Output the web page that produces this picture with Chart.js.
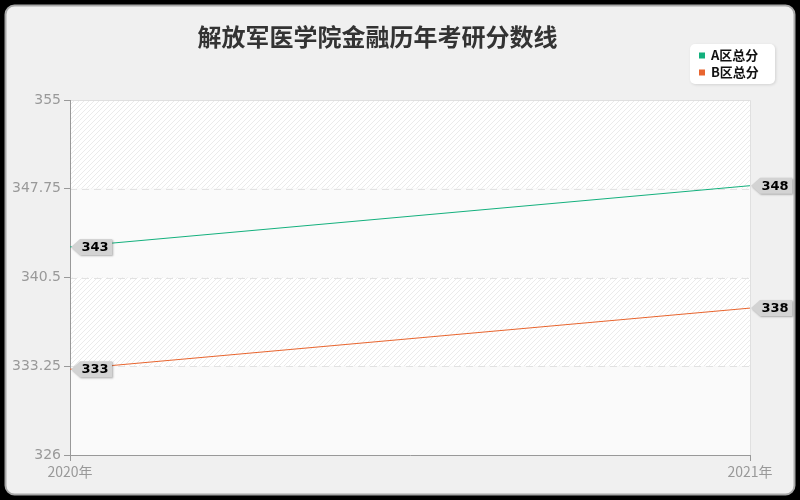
<!DOCTYPE html>
<html>
<head>
<meta charset="utf-8">
<script src="https://cdn.jsdelivr.net/npm/chart.js@4/dist/chart.umd.min.js"></script>
<style>
html,body{margin:0;padding:0;background:#000;}
canvas{display:block;}
</style>
</head>
<body>
<canvas id="c" width="800" height="500"></canvas>
<script>
const categories = ['2020年', '2021年'];
const seriesNames = ['A区总分', 'B区总分'];
const seriesA = [343, 348];
const seriesB = [333, 338];
const yTicks = [326, 333.25, 340.5, 347.75, 355];
const titleText = '解放军医学院金融历年考研分数线';
const colors = ['#13b07d', '#e8652f'];

const NUM_FONT = '"DejaVu Sans", "Noto Sans", sans-serif';
const CJK_FONT = '"Noto Sans CJK SC", "DejaVu Sans", sans-serif';

function makePattern(ctx) {
  const s = 5;
  const pc = document.createElement('canvas');
  pc.width = s; pc.height = s;
  const p = pc.getContext('2d');
  p.fillStyle = '#ffffff';
  p.fillRect(0, 0, s, s);
  p.strokeStyle = '#ebebeb';
  p.lineWidth = 1;
  p.beginPath();
  p.moveTo(-1, s + 1); p.lineTo(s + 1, -1);
  p.moveTo(-1, 1); p.lineTo(1, -1);
  p.moveTo(s - 1, s + 1); p.lineTo(s + 1, s - 1);
  p.stroke();
  return ctx.createPattern(pc, 'repeat');
}

const framePlugin = {
  id: 'frame',
  beforeDraw(chart) {
    const ctx = chart.ctx;
    const ca = chart.chartArea;
    ctx.save();
    ctx.fillStyle = '#000';
    ctx.fillRect(0, 0, 800, 500);
    ctx.beginPath();
    ctx.roundRect(5.5, 5.5, 789, 489, 9);
    ctx.fillStyle = '#f0f0f0';
    ctx.fill();
    ctx.lineWidth = 2;
    ctx.strokeStyle = '#a8a8a8';
    ctx.stroke();

    // bands
    const ys = chart.scales.y;
    const pat = makePattern(ctx);
    for (let i = 0; i < yTicks.length - 1; i++) {
      const yTop = ys.getPixelForValue(yTicks[yTicks.length - 1 - i]);
      const yBot = ys.getPixelForValue(yTicks[yTicks.length - 2 - i]);
      ctx.fillStyle = (i % 2 === 0) ? pat : '#fafafa';
      ctx.fillRect(ca.left, yTop, ca.right - ca.left, yBot - yTop);
    }
    // dashed grid
    ctx.strokeStyle = '#e2e2e2';
    ctx.lineWidth = 1;
    ctx.setLineDash([7, 5]);
    for (let i = 1; i < yTicks.length - 1; i++) {
      const y = Math.round(ys.getPixelForValue(yTicks[i])) + 0.5;
      ctx.beginPath();
      ctx.moveTo(ca.left, y);
      ctx.lineTo(ca.right, y);
      ctx.stroke();
    }
    ctx.setLineDash([]);
    // top and right border
    ctx.strokeStyle = '#e0e0e0';
    ctx.beginPath();
    ctx.moveTo(ca.left, Math.round(ca.top) + 0.5);
    ctx.lineTo(ca.right + 0.5, Math.round(ca.top) + 0.5);
    ctx.lineTo(ca.right + 0.5, ca.bottom);
    ctx.stroke();
    ctx.restore();
  },
  afterDraw(chart) {
    const ctx = chart.ctx;
    ctx.save();
    // title
    ctx.fillStyle = '#333333';
    ctx.font = 'bold 24px ' + CJK_FONT;
    ctx.textAlign = 'center';
    ctx.textBaseline = 'middle';
    ctx.fillText(titleText, 377.5, 37);

    // legend
    ctx.shadowColor = 'rgba(0,0,0,0.12)';
    ctx.shadowBlur = 3;
    ctx.shadowOffsetX = 1;
    ctx.shadowOffsetY = 1;
    ctx.beginPath();
    ctx.roundRect(690, 44, 85, 40, 5);
    ctx.fillStyle = '#ffffff';
    ctx.fill();
    ctx.shadowColor = 'transparent';
    ctx.textAlign = 'left';
    ctx.font = 'bold 13px ' + CJK_FONT;
    for (let i = 0; i < seriesNames.length; i++) {
      const cy = 55.5 + i * 17;
      ctx.fillStyle = colors[i];
      ctx.fillRect(699, cy - 3, 6, 6);
      ctx.fillStyle = '#111';
      ctx.fillText(seriesNames[i], 711, cy);
    }
    ctx.restore();
  },
  afterDatasetsDraw(chart) {
    const ctx = chart.ctx;
    ctx.save();
    ctx.font = 'bold 13px ' + NUM_FONT;
    ctx.textBaseline = 'middle';
    ctx.textAlign = 'left';
    chart.data.datasets.forEach((ds, di) => {
      const meta = chart.getDatasetMeta(di);
      meta.data.forEach((pt, i) => {
        const txt = String(ds.data[i]);
        const w = ctx.measureText(txt).width;
        const x = pt.x + 1, y = pt.y;
        const bx = x + 9, bw = w + 5, h = 16;
        ctx.save();
        ctx.shadowColor = 'rgba(0,0,0,0.3)';
        ctx.shadowBlur = 2;
        ctx.shadowOffsetX = 1;
        ctx.shadowOffsetY = 1;
        ctx.beginPath();
        ctx.moveTo(x, y);
        ctx.lineTo(bx, y - h / 2);
        ctx.lineTo(bx + bw, y - h / 2);
        ctx.lineTo(bx + bw, y + h / 2);
        ctx.lineTo(bx, y + h / 2);
        ctx.closePath();
        ctx.fillStyle = '#d3d3d3';
        ctx.fill();
        ctx.restore();
        ctx.fillStyle = '#000';
        ctx.fillText(txt, bx + 1.5, y + 0.5);
      });
    });
    ctx.restore();
  }
};

new Chart(document.getElementById('c'), {
  type: 'line',
  data: {
    labels: categories,
    datasets: [
      { label: seriesNames[0], data: seriesA, borderColor: colors[0], backgroundColor: colors[0], borderWidth: 1, pointRadius: 0, tension: 0 },
      { label: seriesNames[1], data: seriesB, borderColor: colors[1], backgroundColor: colors[1], borderWidth: 1, pointRadius: 0, tension: 0 }
    ]
  },
  options: {
    responsive: false,
    animation: false,
    devicePixelRatio: 1,
    layout: { padding: { top: 100, right: 50, left: 0, bottom: 0 } },
    plugins: { legend: { display: false }, title: { display: false }, tooltip: { enabled: false } },
    scales: {
      x: {
        type: 'category',
        offset: false,
        afterFit(s) { s.height = 45; },
        grid: { color: 'transparent', tickColor: '#999', tickLength: 6, drawOnChartArea: false },
        border: { display: true, color: '#999', width: 1 },
        ticks: { color: '#999', font: { size: 14, family: CJK_FONT }, padding: 2, maxRotation: 0 }
      },
      y: {
        min: yTicks[0],
        max: yTicks[yTicks.length - 1],
        afterFit(s) { s.width = 70; },
        afterBuildTicks(s) { s.ticks = yTicks.map(v => ({ value: v })); },
        grid: { color: 'transparent', tickColor: '#999', tickLength: 6, drawOnChartArea: false },
        border: { display: true, color: '#999', width: 1 },
        ticks: { color: '#999', font: { size: 14, family: NUM_FONT }, padding: 3,
                 callback: v => String(v) }
      }
    }
  },
  plugins: [framePlugin]
});
</script>
</body>
</html>
